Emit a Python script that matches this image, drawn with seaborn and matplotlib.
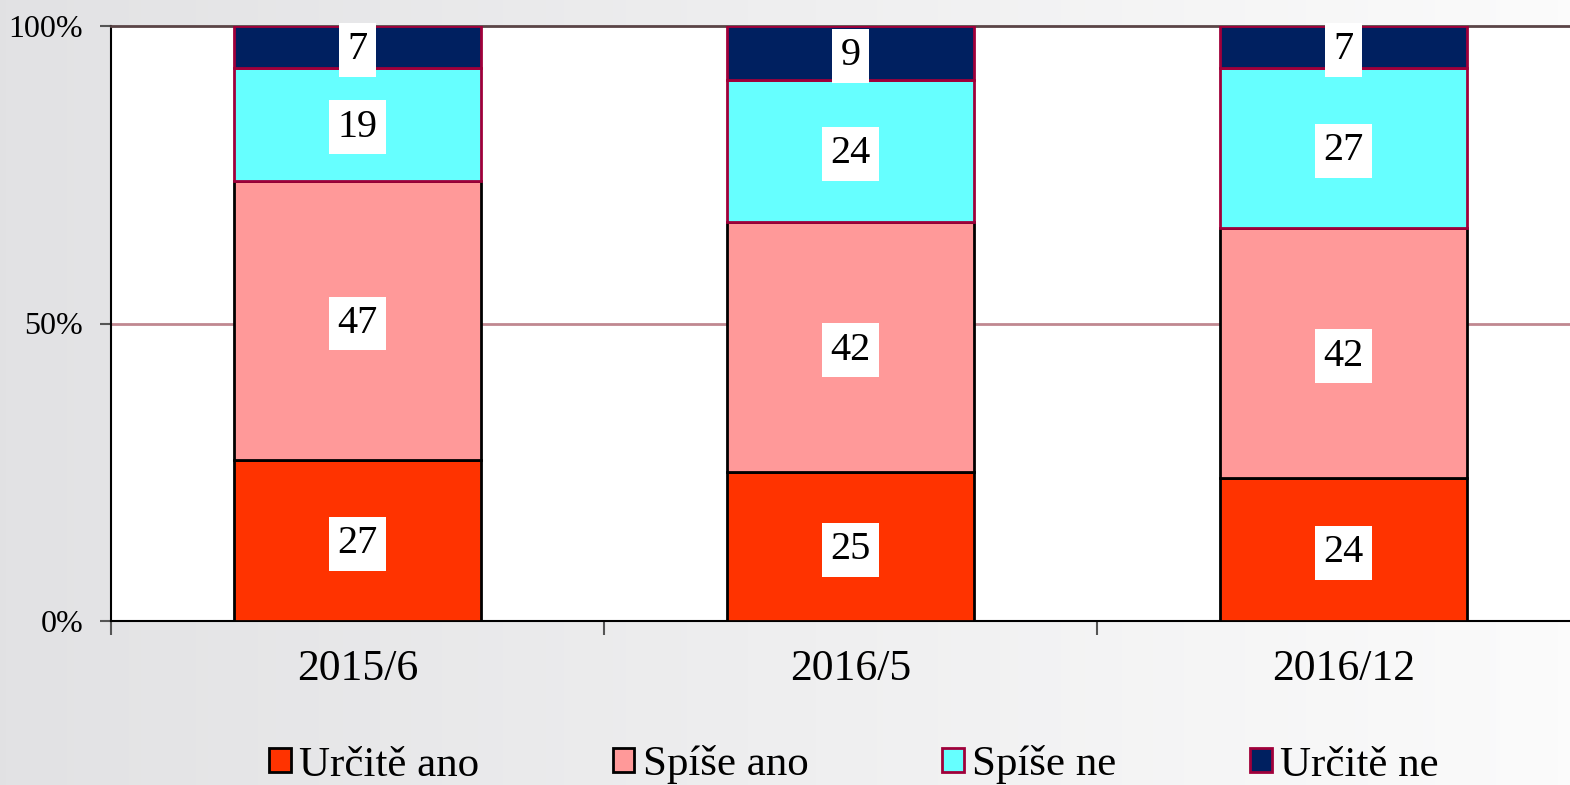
import numpy as np
import pandas as pd
import matplotlib
matplotlib.use("Agg")
import matplotlib.pyplot as plt
import seaborn as sns
from matplotlib.patches import Patch

periods = ["2015/6", "2016/5", "2016/12"]
urcite_ano = [27, 25, 24]
spise_ano = [47, 42, 42]
spise_ne = [19, 24, 27]
urcite_ne = [7, 9, 7]
series_names = ["Určitě ano", "Spíše ano", "Spíše ne", "Určitě ne"]
y_ticks = [0, 50, 100]
y_tick_labels = ["0%", "50%", "100%"]

colors = ["#ff3300", "#ff9999", "#66ffff", "#002060"]
edges = ["#000000", "#000000", "#a0003a", "#a0003a"]

sns.set_theme(style="ticks")
plt.rcParams["font.family"] = ["Liberation Serif", "DejaVu Serif"]
plt.rcParams["text.color"] = "black"
plt.rcParams["xtick.color"] = "#555555"
plt.rcParams["ytick.color"] = "#555555"
plt.rcParams["xtick.labelcolor"] = "black"
plt.rcParams["ytick.labelcolor"] = "black"

W, H = 1570, 785
fig = plt.figure(figsize=(W / 100, H / 100), dpi=100)

# background gradient
bg = fig.add_axes([0, 0, 1, 1], zorder=-10)
grad = np.linspace(0, 1, 256)[None, :]
c0 = np.array([0.886, 0.886, 0.894])
c1 = np.array([0.985, 0.985, 0.985])
img = c0[None, None, :] * (1 - grad[..., None]) + c1[None, None, :] * grad[..., None]
bg.imshow(img, aspect="auto", extent=[0, 1, 0, 1])
bg.set_axis_off()

left = 111 / W
right = 1590 / W
bottom = 1 - 621 / H
top = 1 - 26 / H
ax = fig.add_axes([left, bottom, right - left, top - bottom])
ax.set_facecolor("white")

df = pd.DataFrame({
    "period": periods,
    series_names[0]: urcite_ano,
    series_names[1]: spise_ano,
    series_names[2]: spise_ne,
    series_names[3]: urcite_ne,
})

cum = np.zeros(len(periods))
for name, col, ec in zip(series_names, colors, edges):
    vals = df[name].to_numpy(dtype=float)
    sns.barplot(data=df, x="period", y=name, bottom=cum, color=col,
                edgecolor=ec, linewidth=2, width=0.5, saturation=1,
                ax=ax, zorder=3)
    for i, v in enumerate(vals):
        ax.text(i, cum[i] + v / 2 - 0.5, f"{int(v)}", ha="center", va="center",
                fontsize=29, color="black", zorder=5,
                bbox=dict(facecolor="white", edgecolor="none", pad=6))
    cum = cum + vals

ax.set_xlim(-0.5, 2.5)
ax.set_ylim(0, 100)
ax.set_xlabel("")
ax.set_ylabel("")
ax.axhline(50, color="#c08890", lw=2, zorder=1)

ax.set_yticks(y_ticks)
ax.set_yticklabels(y_tick_labels, fontsize=23)
ax.set_xticks(range(len(periods)))
ax.set_xticklabels(periods, fontsize=31.5)
ax.set_xticks([-0.5, 0.5, 1.5], minor=True)
ax.tick_params(axis="x", which="major", length=0, pad=20)
ax.tick_params(axis="x", which="minor", length=10, width=1.5, direction="out", bottom=True)
ax.tick_params(axis="y", which="major", length=8, width=1.5, direction="out", pad=12, left=True)
ax.tick_params(axis="y", which="minor", left=False)

for s in ["left", "bottom"]:
    ax.spines[s].set_color("#000000")
    ax.spines[s].set_linewidth(1.5)
ax.spines["top"].set_visible(True)
ax.spines["top"].set_color("#5a4446")
ax.spines["top"].set_linewidth(2)
ax.spines["right"].set_visible(False)
ax.grid(False)

handles = [Patch(facecolor=c, edgecolor=e, linewidth=2) for c, e in zip(colors, edges)]
fig.legend(handles, series_names, loc="center", bbox_to_anchor=(854 / W, 1 - 765 / H),
           ncol=4, frameon=False, fontsize=31, handlelength=0.5, handleheight=0.5,
           handletextpad=0.2, columnspacing=3.1, borderaxespad=0, borderpad=0)

fig.savefig("out.png", dpi=100)
